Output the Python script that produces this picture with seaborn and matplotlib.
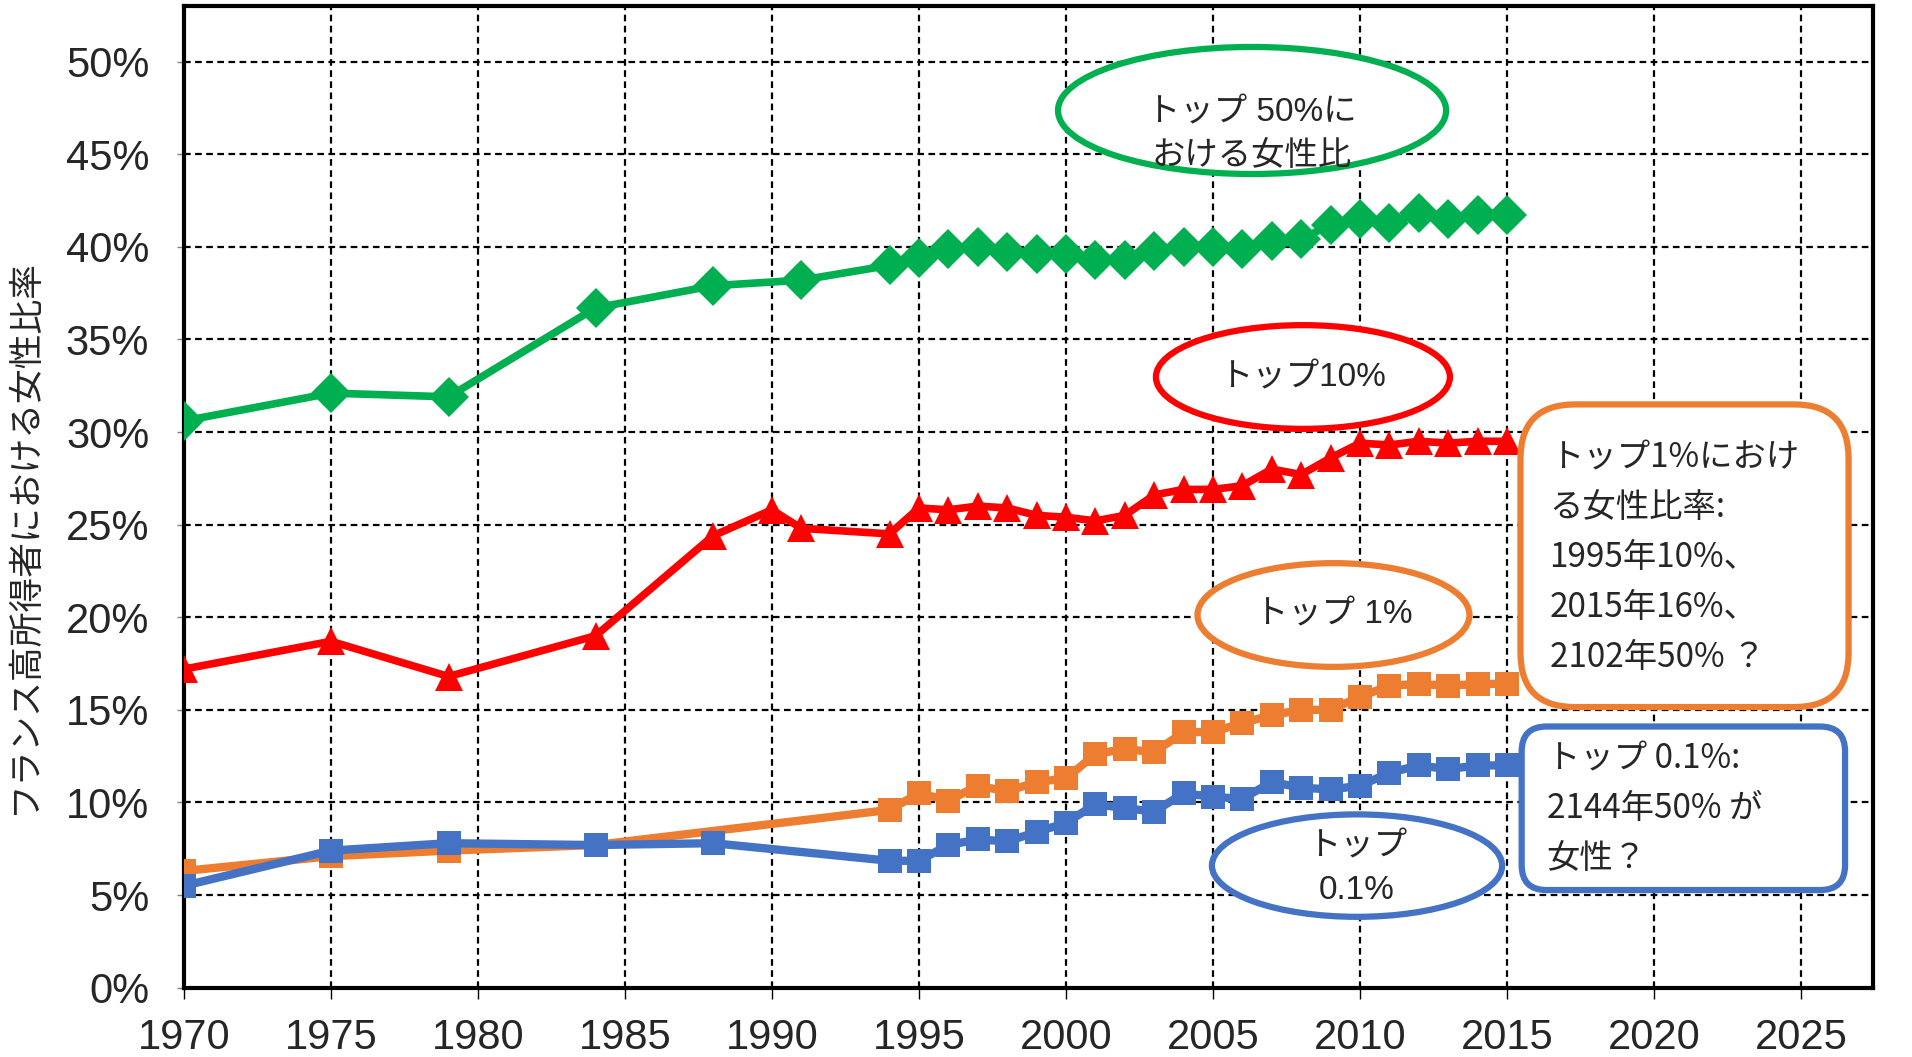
import numpy as np
import pandas as pd
import seaborn as sns
import matplotlib.pyplot as plt
from matplotlib.patches import Ellipse, FancyBboxPatch

# shares of women among top earners in France (%)
years_50 = [1970, 1975, 1979, 1984, 1988, 1991, 1994, 1995, 1996, 1997, 1998, 1999, 2000,
            2001, 2002, 2003, 2004, 2005, 2006, 2007, 2008, 2009, 2010, 2011, 2012, 2013, 2014, 2015]
top50 = [30.6, 32.1, 31.9, 36.7, 37.9, 38.2, 39.0, 39.4, 39.9, 40.0, 39.7, 39.6, 39.6,
         39.3, 39.3, 39.8, 40.0, 40.0, 39.9, 40.3, 40.4, 41.2, 41.5, 41.3, 41.8, 41.5, 41.7, 41.7]

years_10 = [1970, 1975, 1979, 1984, 1988, 1990, 1991, 1994, 1995, 1996, 1997, 1998, 1999, 2000,
            2001, 2002, 2003, 2004, 2005, 2006, 2007, 2008, 2009, 2010, 2011, 2012, 2013, 2014, 2015]
top10 = [17.2, 18.7, 16.8, 19.0, 24.4, 25.8, 24.8, 24.5, 25.9, 25.8, 26.0, 25.9, 25.5, 25.4,
         25.2, 25.5, 26.6, 26.9, 26.9, 27.1, 28.0, 27.7, 28.6, 29.4, 29.3, 29.5, 29.4, 29.5, 29.5]

years_1 = [1970, 1975, 1979, 1984, 1994, 1995, 1996, 1997, 1998, 1999, 2000,
           2001, 2002, 2003, 2004, 2005, 2006, 2007, 2008, 2009, 2010, 2011, 2012, 2013, 2014, 2015]
top1 = [6.3, 7.1, 7.4, 7.7, 9.6, 10.5, 10.1, 10.9, 10.6, 11.1, 11.3,
        12.6, 12.9, 12.7, 13.8, 13.8, 14.3, 14.7, 15.0, 15.0, 15.7, 16.3, 16.4, 16.3, 16.4, 16.4]

years_01 = [1970, 1975, 1979, 1984, 1988, 1994, 1995, 1996, 1997, 1998, 1999, 2000,
            2001, 2002, 2003, 2004, 2005, 2006, 2007, 2008, 2009, 2010, 2011, 2012, 2013, 2014, 2015]
top01 = [5.5, 7.4, 7.8, 7.7, 7.8, 6.85, 6.85, 7.7, 8.0, 7.9, 8.4, 8.9,
         9.9, 9.7, 9.5, 10.5, 10.3, 10.2, 11.1, 10.8, 10.7, 10.9, 11.6, 12.0, 11.8, 12.0, 12.0]

x_ticks = [1970, 1975, 1980, 1985, 1990, 1995, 2000, 2005, 2010, 2015, 2020, 2025]
y_ticks = [0, 5, 10, 15, 20, 25, 30, 35, 40, 45, 50]

GREEN = '#00B050'
RED = '#FF0000'
ORANGE = '#ED7D31'
BLUE = '#4472C4'

sns.set_theme(style='white')
plt.rcParams['font.family'] = ['Liberation Sans', 'Noto Sans CJK JP', 'DejaVu Sans']
JP = ['Noto Sans CJK JP', 'DejaVu Sans']

fig = plt.figure(figsize=(19.12, 10.57), dpi=100)
ax = fig.add_axes([0.0962, 0.0656, 0.8834, 0.9287])

x0, x1, y0, y1 = 1970, 2027.45, 0, 53.0
ax.set_xlim(x0, x1)
ax.set_ylim(y0, y1)

# grid
ax.set_axisbelow(True)
ax.grid(True, color='black', linestyle=(0, (3, 2)), linewidth=1.6)

sns.lineplot(x=years_50, y=top50, ax=ax, color=GREEN, marker='D', markersize=20,
             markeredgewidth=0, linewidth=5.5, zorder=3)
sns.lineplot(x=years_10, y=top10, ax=ax, color=RED, marker='^', markersize=20,
             markeredgewidth=0, linewidth=5.5, zorder=3)
sns.lineplot(x=years_1, y=top1, ax=ax, color=ORANGE, marker='s', markersize=17,
             markeredgewidth=0, linewidth=6, zorder=3)
sns.lineplot(x=years_01, y=top01, ax=ax, color=BLUE, marker='s', markersize=17,
             markeredgewidth=0, linewidth=6, zorder=3)

ax.set_xticks(x_ticks)
ax.set_xticklabels([str(y) for y in x_ticks])
ax.set_yticks(y_ticks)
ax.set_yticklabels([f'{v}%' for v in y_ticks])
ax.tick_params(axis='x', direction='out', length=8, width=1, color='black',
               labelsize=30, pad=14, bottom=True)
ax.tick_params(axis='y', direction='out', length=5, width=1, color='gray',
               labelsize=30, pad=20, left=True)

for s in ax.spines.values():
    s.set_color('black')
    s.set_linewidth(3)

ax.set_ylabel('フランス高所得者における女性比率', fontsize=25, family=JP)
ax.yaxis.set_label_coords(-0.084, 0.46)
ax.set_xlabel('')

# ellipse labels
ellipses = [
    (2006.33, 47.36, 13.2, 6.86, GREEN, 'トップ 50%に\nおける女性比', 46.05),
    (2008.06, 32.97, 10.0, 5.6, RED, 'トップ10%', 32.9),
    (2009.10, 20.12, 9.25, 5.6, ORANGE, 'トップ 1%', 20.1),
    (2009.90, 6.59, 9.87, 5.53, BLUE, 'トップ\n0.1%', 6.42),
]
for cx, cy, w, h, col, label, ty in ellipses:
    ax.add_patch(Ellipse((cx, cy), w, h, facecolor='white', edgecolor=col,
                         linewidth=4.5, zorder=4))
    ax.text(cx, ty, label, ha='center', va='center', fontsize=24,
            linespacing=1.55, zorder=5)

# rounded callout boxes (equal corner radius in pixels)
ax_w = fig.get_figwidth() * fig.dpi * 0.8834
ax_h = fig.get_figheight() * fig.dpi * 0.9287
aspect = (ax_w / (x1 - x0)) / (ax_h / (y1 - y0))

boxes = [
    (2015.46, 15.15, 11.16, 16.34, 1.85, ORANGE, 2016.45, 23.22,
     'トップ1%におけ\nる女性比率:\n1995年10%、\n2015年16%、\n2102年50% ？'),
    (2015.50, 5.27, 11.0, 8.83, 0.85, BLUE, 2016.35, 9.65,
     'トップ 0.1%:\n2144年50% が\n女性？'),
]
for bx, by, bw, bh, r, col, tx, ty, label in boxes:
    ax.add_patch(FancyBboxPatch((bx, by), bw, bh,
                                boxstyle=f'round,pad=0,rounding_size={r}',
                                mutation_aspect=aspect, facecolor='white',
                                edgecolor=col, linewidth=4.5, zorder=4, clip_on=False))
    ax.text(tx, ty, label, ha='left', va='center', fontsize=24, family=JP,
            linespacing=1.55, zorder=5)

fig.savefig('out.png', dpi=100)
